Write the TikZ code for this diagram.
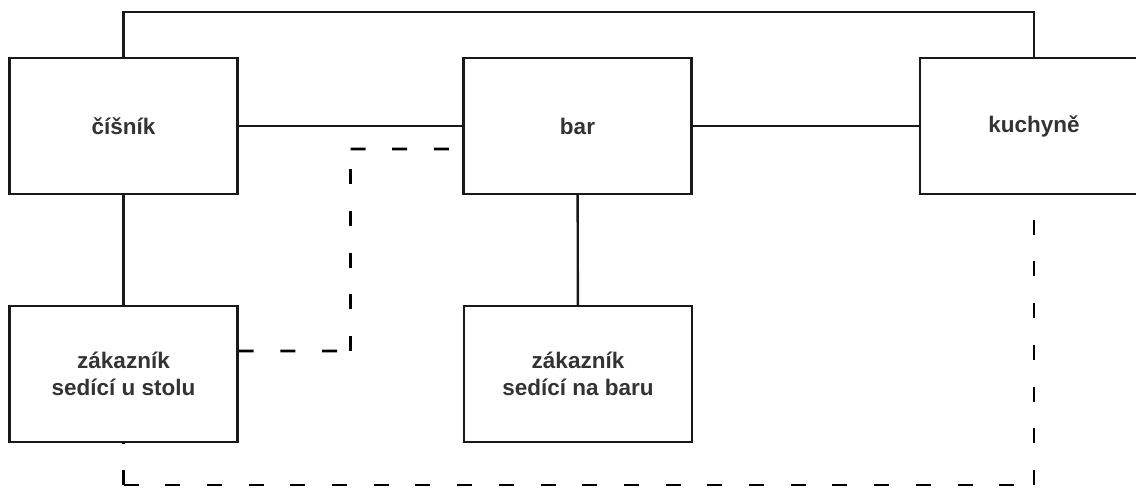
\documentclass[tikz,border=0pt]{standalone}
\usepackage{fontspec}
\setmainfont{Liberation Sans}
\usetikzlibrary{backgrounds}
\begin{document}
\begin{tikzpicture}[x=1bp,y=-1bp,
  box/.style={draw=black!90, line width=2.4bp, fill=white, minimum width=228bp, minimum height=136bp,
    inner sep=0pt, align=center, text=black!80, font=\fontsize{22.5bp}{26.5bp}\selectfont\bfseries},
  link/.style={draw=black!90, line width=2.4bp},
  dashlink/.style={draw=black, line width=2.6bp, dash pattern=on 15bp off 26.7bp}]
\useasboundingbox (0,0) rectangle (1136,489);
\node[box] (cisnik) at (123.5,126) {číšník};
\node[box] (bar) at (577.5,126) {bar};
\node[box] (kuchyne) at (1034,126) {kuchyně};
\node[box] (stolu) at (123.5,374) {zákazník\\sedící u stolu};
\node[box] (barcust) at (578,374) {zákazník\\sedící na baru};
\coordinate (c1) at (350.5,351);
\coordinate (c2) at (350.5,149);
\coordinate (c3) at (123.5,485);
\coordinate (c4) at (1034,485);
\begin{scope}[on background layer]
\draw[link] (cisnik.north) -- ++(0,-45) -| (kuchyne.north);
\draw[link] (cisnik) -- (bar);
\draw[link] (bar) -- (kuchyne);
\draw[link] (cisnik) -- (stolu);
\draw[link] (bar) -- (barcust);
\draw[dashlink] ([yshift=23bp]stolu.east) -- (c1);
\draw[dashlink] (c1) -- (c2);
\draw[dashlink] (c2) -- ([yshift=-23bp]bar.west);
\draw[dashlink] (c3) -- (stolu.south);
\draw[dashlink] (c3) -- (c4);
\draw[dashlink] (c4) -- (kuchyne.south);
\end{scope}
\end{tikzpicture}
\end{document}
